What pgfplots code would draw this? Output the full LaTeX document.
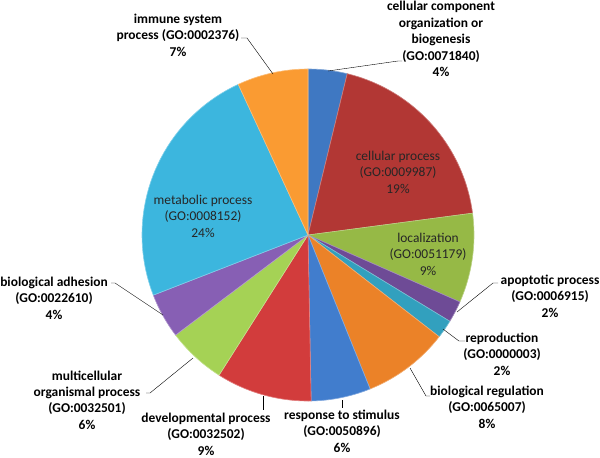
\documentclass[border=0pt]{standalone}
\usepackage{pgfplots}
\pgfplotsset{compat=1.18}
\usepackage{fontspec}
\setmainfont{Carlito}

\definecolor{cA}{HTML}{3F78C2}
\definecolor{cB}{HTML}{B23734}
\definecolor{cC}{HTML}{96B946}
\definecolor{cD}{HTML}{6E4B96}
\definecolor{cE}{HTML}{32A0BE}
\definecolor{cF}{HTML}{EB8228}
\definecolor{cG}{HTML}{417DCD}
\definecolor{cH}{HTML}{D23C3C}
\definecolor{cI}{HTML}{A5D255}
\definecolor{cJ}{HTML}{875FB4}
\definecolor{cK}{HTML}{3CB6DE}
\definecolor{cL}{HTML}{FA9B32}

% running total of the shares drawn so far (percent)
\def\cum{0}
\newcommand\slice[2]{%
  \pgfmathsetmacro\sa{3.6*\cum}%
  \pgfmathsetmacro\sb{3.6*(\cum+#1)}%
  \edef\doslice{\noexpand\addplot[fill=#2, draw=#2!65!white, line width=0.6pt,
    domain=\sa:\sb, samples=40]
    ({308+166*sin(x)},{235-166*cos(x)}) -- (axis cs:308,235) -- cycle;}%
  \doslice
  \pgfmathsetmacro\cum{\cum+#1}\xdef\cum{\cum}}

\tikzset{lbl/.style={align=center, inner sep=0pt, font=\fontsize{13.5}{16.5}\selectfont\bfseries},
         inl/.style={align=center, inner sep=0pt, font=\fontsize{13.5}{16.5}\selectfont, text=black!85}}

\begin{document}
\begin{tikzpicture}
\begin{axis}[width=600bp, height=457bp, scale only axis,
  xmin=0, xmax=600, ymin=0, ymax=457, y dir=reverse,
  hide axis, clip=false]

\slice{3.8}{cA}   % cellular component organization or biogenesis
\slice{19.1}{cB}  % cellular process
\slice{8.7}{cC}   % localization
\slice{2.1}{cD}   % apoptotic process
\slice{1.8}{cE}   % reproduction
\slice{8.4}{cF}   % biological regulation
\slice{5.8}{cG}   % response to stimulus
\slice{9.3}{cH}   % developmental process
\slice{5.7}{cI}   % multicellular organismal process
\slice{4.4}{cJ}   % biological adhesion
\slice{24.0}{cK}  % metabolic process
\slice{6.9}{cL}   % immune system process

% leader lines
\addplot[black, thin] coordinates {(273,74) (247,38) (241,38)};
\addplot[black, thin] coordinates {(328,71) (398,61) (402,61)};
\addplot[black, thin] coordinates {(457,312) (493,283) (498,283)};
\addplot[black, thin] coordinates {(443,329) (459,341) (465,341)};
\addplot[black, thin] coordinates {(410,368) (426,396) (430,396)};
\addplot[black, thin] coordinates {(342,400) (342,408)};
\addplot[black, thin] coordinates {(263,396) (263,410)};
\addplot[black, thin] coordinates {(193,358) (150,393) (146,393)};
\addplot[black, thin] coordinates {(163,315) (115,283) (111,283)};

% outside labels
\node[lbl] at (axis cs:178,35) {immune system\\process (GO:0002376)\\7\%};
\node[lbl] at (axis cs:441,39) {cellular component\\organization or\\biogenesis\\(GO:0071840)\\4\%};
\node[lbl] at (axis cs:550,296) {apoptotic process\\(GO:0006915)\\2\%};
\node[lbl] at (axis cs:502,354) {reproduction\\(GO:0000003)\\2\%};
\node[lbl] at (axis cs:487,407) {biological regulation\\(GO:0065007)\\8\%};
\node[lbl] at (axis cs:342,431) {response to stimulus\\(GO:0050896)\\6\%};
\node[lbl] at (axis cs:206,434) {developmental process\\(GO:0032502)\\9\%};
\node[lbl] at (axis cs:87,400) {multicellular\\organismal process\\(GO:0032501)\\6\%};
\node[lbl] at (axis cs:54,298) {biological adhesion\\(GO:0022610)\\4\%};

% inside labels
\node[inl] at (axis cs:398,172) {cellular process\\(GO:0009987)\\19\%};
\node[inl] at (axis cs:428,254) {localization\\(GO:0051179)\\9\%};
\node[inl] at (axis cs:203,216) {metabolic process\\(GO:0008152)\\24\%};
\end{axis}
\pgfresetboundingbox
\path (current axis.south west) rectangle (current axis.north east);
\end{tikzpicture}
\end{document}
